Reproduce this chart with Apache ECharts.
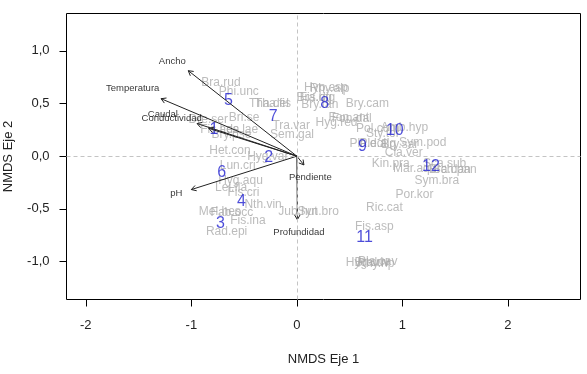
<!DOCTYPE html>
<html>
<head>
<meta charset="utf-8">
<script src="https://cdn.jsdelivr.net/npm/echarts@6/dist/echarts.min.js"></script>
<style>
html,body{margin:0;padding:0;background:#fff;}
#main{width:587px;height:374px;}
</style>
</head>
<body>
<div id="main"></div>
<script>
// especies (gris)
var spNames = ['Bra.rud','Phi.unc','Tha.del','Tha.fis','Bri.se','Dre.ser','Les.lae','Fis.ada','Bry.pse',
  'Het.con','Hyg.var','Tra.var','Sem.gal','Lun.cri','Hyg.aqu','Lei.fla','Fis.cri','Nth.vin','Mel.hes',
  'Fab.occ','Fis.ina','Rad.epi','Jub.hut','Syn.bro','Ric.cat','Fis.asp','Hyg.duv','Bra.riv','Rhy.rip',
  'Pla.cav','Por.kor','Sym.bra','Kin.pra','Mar.aqu','Sca.sub','Bra.dan','Sch.pan','Cla.ver','Sym.pod',
  'Bry.sar','Pla.dol','Ple.alg','Sty.tor','Pol.com','Amb.hyp','Hyg.red','Fon.ant','Fon.dal','Bry.cam',
  'Bry.tan','Bra.rig','Fis.dig','Hyp.asp','Rhy.alp'];
var spX = [-0.72,-0.55,-0.265,-0.227,-0.50,-0.84,-0.55,-0.73,-0.62,
  -0.634,-0.275,-0.053,-0.046,-0.56,-0.534,-0.623,-0.506,-0.32,-0.73,
  -0.615,-0.464,-0.666,0.01,0.202,0.83,0.734,0.672,0.71,0.748,
  0.767,1.115,1.326,0.89,1.117,1.40,1.449,1.496,1.013,1.193,
  0.975,0.672,0.767,0.815,0.767,1.02,0.376,0.492,0.52,0.668,
  0.218,0.165,0.195,0.276,0.31];
var spY = [0.70,0.61,0.503,0.503,0.37,0.35,0.255,0.25,0.20,
  0.05,-0.005,0.288,0.206,-0.092,-0.228,-0.297,-0.348,-0.459,-0.53,
  -0.535,-0.61,-0.719,-0.523,-0.523,-0.491,-0.671,-1.01,-1.015,-1.02,
  -1.005,-0.37,-0.228,-0.07,-0.117,-0.07,-0.124,-0.131,0.031,0.13,
  0.105,0.121,0.12,0.209,0.263,0.266,0.316,0.365,0.36,0.50,
  0.485,0.557,0.56,0.65,0.645];

// sitios (azul)
var siteNames = ['1','2','3','4','5','6','7','8','9','10','11','12'];
var siteX = [-0.785,-0.267,-0.725,-0.524,-0.648,-0.712,-0.224,0.265,0.622,0.928,0.641,1.271];
var siteY = [0.255,-0.012,-0.642,-0.43,0.532,-0.159,0.373,0.50,0.088,0.247,-0.776,-0.10];

// variables ambientales (flechas)
var envNames = ['Ancho','Temperatura','Caudal','Conductividad','pH','Pendiente','Profundidad'];
var envX = [-1.029,-1.287,-0.835,-0.946,-1.0,0.067,0.005];
var envY = [0.812,0.546,0.264,0.31,-0.317,-0.083,-0.603];
var envLabX = [-1.18,-1.556,-1.27,-1.186,-1.143,0.128,0.02];
var envLabY = [0.905,0.643,0.397,0.359,-0.355,-0.203,-0.727];

var xTicks = [-2,-1,0,1,2];
var yTicks = [-1,-0.5,0,0.5,1];

var font = 'Liberation Sans, Arial, sans-serif';
var mychart = echarts.init(document.getElementById('main'));

function pts(xs, ys, names) {
  return xs.map(function (x, i) { return [x, ys[i], names[i]]; });
}

var option = {
  animation: false,
  grid: {
    left: 66.5, right: 6.5, top: 13.5, bottom: 74.5,
    outerBoundsMode: 'none',
    containLabel: false,
    show: true, borderColor: '#000', borderWidth: 1
  },
  xAxis: {
    type: 'value',
    min: -2.183, max: 2.688,
    name: 'NMDS Eje 1',
    nameLocation: 'middle',
    nameGap: 53,
    nameTextStyle: { color: '#222', fontSize: 13, fontFamily: font },
    axisLine: { show: false, onZero: false },
    splitLine: { show: false },
    axisTick: { show: true, inside: false, length: 7, customValues: xTicks, lineStyle: { color: '#000' } },
    axisLabel: { show: true, margin: 19, customValues: xTicks, color: '#222', fontSize: 13, fontFamily: font }
  },
  yAxis: {
    type: 'value',
    min: -1.361, max: 1.355,
    name: 'NMDS Eje 2',
    nameLocation: 'middle',
    nameGap: 52,
    nameRotate: 90,
    nameTextStyle: { color: '#222', fontSize: 13, fontFamily: font },
    axisLine: { show: false, onZero: false },
    splitLine: { show: false },
    axisTick: { show: true, inside: false, length: 7, customValues: yTicks, lineStyle: { color: '#000' } },
    axisLabel: {
      show: true, margin: 17, customValues: yTicks, color: '#222', fontSize: 13, fontFamily: font,
      formatter: function (v) { return v.toFixed(1).replace('.', ','); }
    }
  },
  series: [
    {
      name: 'especies',
      type: 'scatter',
      z: 2,
      symbolSize: 0,
      data: pts(spX, spY, spNames),
      label: {
        show: true, position: 'inside',
        formatter: function (p) { return p.data[2]; },
        color: '#ababab', fontSize: 12, fontFamily: font
      },
      markLine: {
        silent: true,
        symbol: 'none',
        label: { show: false },
        lineStyle: { color: '#c4c4c4', type: [4, 3], width: 1 },
        data: [{ xAxis: 0 }, { yAxis: 0 }]
      }
    },
    {
      name: 'sitios',
      type: 'scatter',
      z: 3,
      symbolSize: 0,
      data: pts(siteX, siteY, siteNames),
      label: {
        show: true, position: 'inside',
        formatter: function (p) { return p.data[2]; },
        color: '#1f1fd0', fontSize: 16, fontFamily: font
      }
    },
    {
      name: 'flechas',
      type: 'custom',
      z: 4,
      data: envX.map(function (x, i) { return [x, envY[i]]; }),
      renderItem: function (params, api) {
        var o = api.coord([0, 0]);
        var t = api.coord([api.value(0), api.value(1)]);
        var ang = Math.atan2(t[1] - o[1], t[0] - o[0]);
        var L = 5.5, a = Math.PI / 6;
        var h1 = [t[0] - L * Math.cos(ang - a), t[1] - L * Math.sin(ang - a)];
        var h2 = [t[0] - L * Math.cos(ang + a), t[1] - L * Math.sin(ang + a)];
        return {
          type: 'group',
          children: [
            { type: 'line', shape: { x1: o[0], y1: o[1], x2: t[0], y2: t[1] }, style: { stroke: '#222', lineWidth: 1 } },
            { type: 'polyline', shape: { points: [h1, t, h2] }, style: { stroke: '#222', fill: null, lineWidth: 1 } }
          ]
        };
      }
    },
    {
      name: 'variables',
      type: 'scatter',
      z: 5,
      symbolSize: 0,
      data: pts(envLabX, envLabY, envNames),
      label: {
        show: true, position: 'inside',
        formatter: function (p) { return p.data[2]; },
        color: '#000', fontSize: 9.5, fontFamily: font
      }
    }
  ]
};
mychart.setOption(option);
</script>
</body>
</html>
